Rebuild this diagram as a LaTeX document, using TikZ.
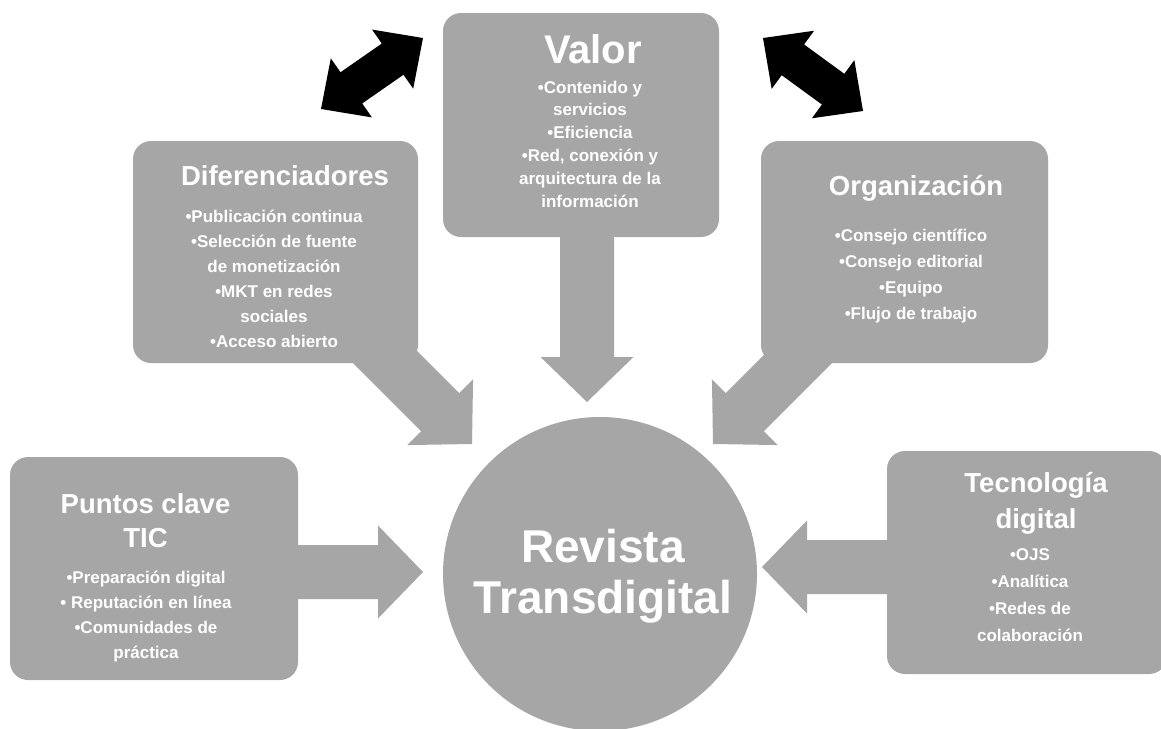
\documentclass[tikz,border=0pt]{standalone}
\usepackage{fontspec}
\setmainfont{Liberation Sans}
\usetikzlibrary{calc}
\definecolor{boxgray}{RGB}{166,166,166}
\newcommand{\blockarrow}[2]{%
  \coordinate (ba-c) at ($(#2)!45pt!(#1)$);
  \fill[boxgray] ($(#1)!27pt!90:(#2)$) -- ($(ba-c)!27pt!90:(#2)$) -- ($(ba-c)!46.5pt!90:(#2)$) -- (#2)
    -- ($(ba-c)!46.5pt!-90:(#2)$) -- ($(ba-c)!27pt!-90:(#2)$) -- ($(#1)!27pt!-90:(#2)$) -- cycle;}
\newcommand{\dblarrow}[2]{%
  \coordinate (da-a) at ($(#1)!37pt!(#2)$);
  \coordinate (da-b) at ($(#2)!37pt!(#1)$);
  \fill[black] (#1) -- ($(da-a)!36pt!90:(#2)$) -- ($(da-a)!19pt!90:(#2)$) -- ($(da-b)!19pt!-90:(#1)$)
    -- ($(da-b)!36pt!-90:(#1)$) -- (#2) -- ($(da-b)!36pt!90:(#1)$) -- ($(da-b)!19pt!90:(#1)$)
    -- ($(da-a)!19pt!-90:(#2)$) -- ($(da-a)!36pt!-90:(#2)$) -- cycle;}
\tikzset{
  box/.style={fill=boxgray, rounded corners=18pt, inner sep=0pt, draw=none},
  ttl/.style={text=white, font=\fontsize{27.5}{34}\selectfont\bfseries, align=center, anchor=base, inner sep=0pt},
  itm/.style={text=white, font=\fontsize{17}{25}\selectfont\bfseries, align=center, anchor=base, inner sep=0pt},
}
\begin{document}
\begin{tikzpicture}[x=1pt,y=-1pt]
\useasboundingbox (0,0) rectangle (1161,728);
\clip (0,0) rectangle (1161,728);
% arrow end points
\coordinate (sV) at (587,200);  \coordinate (tV) at (587,402);
\coordinate (sD) at (322,294);  \coordinate (tD) at (472,444);
\coordinate (sO) at (863,294);  \coordinate (tO) at (713,444);
\coordinate (sP) at (250,572);  \coordinate (tP) at (423,572);
\coordinate (sT) at (930,567);  \coordinate (tT) at (762,567);
\blockarrow{sV}{tV}
\blockarrow{sD}{tD}
\blockarrow{sO}{tO}
\blockarrow{sP}{tP}
\blockarrow{sT}{tT}
% boxes
\node[box, minimum width=276pt, minimum height=224pt] (val) at (581,125) {};
\node[box, minimum width=285pt, minimum height=222pt] (dif) at (275.5,252) {};
\node[box, minimum width=287pt, minimum height=222pt] (org) at (904.5,252) {};
\node[box, minimum width=288pt, minimum height=223pt] (pun) at (154,568.5) {};
\node[box, minimum width=280pt, minimum height=223pt] (tec) at (1027,562.5) {};
\node[circle, fill=boxgray, minimum size=314pt, inner sep=0pt] (rev) at (600,574) {};
% black double arrows
\coordinate (lA) at (321,109); \coordinate (lB) at (423,38);
\coordinate (rA) at (763,38);  \coordinate (rB) at (863,111);
\dblarrow{lA}{lB}
\dblarrow{rA}{rB}
% texts (anchor base = baseline of the last line)
\node[ttl, font=\fontsize{40}{48}\selectfont\bfseries] (valT) at (593,63) {Valor};
\node[itm, font=\fontsize{17}{22.8}\selectfont\bfseries] (valI) at (590,207) {•Contenido y\\servicios\\•Eficiencia\\•Red, conexión y\\arquitectura de la\\información};
\node[ttl] (difT) at (285,185) {Diferenciadores};
\node[itm] (difI) at (274,347) {•Publicación continua\\•Selección de fuente\\de monetización\\•MKT en redes\\sociales\\•Acceso abierto};
\node[ttl] (orgT) at (916,195) {Organización};
\node[itm, font=\fontsize{17}{25.7}\selectfont\bfseries] (orgI) at (911,319) {•Consejo científico\\•Consejo editorial\\•Equipo\\•Flujo de trabajo};
\node[ttl] (punT) at (145.5,547) {Puntos clave\\TIC};
\node[itm] (punI) at (146,658) {•Preparación digital\\• Reputación en línea\\•Comunidades de\\práctica};
\node[ttl, font=\fontsize{27.5}{36}\selectfont\bfseries] (tecT) at (1036,528) {Tecnología\\digital};
\node[itm, font=\fontsize{17}{27}\selectfont\bfseries] (tecI) at (1030,641) {•OJS\\•Analítica\\•Redes de\\colaboración};
\node[ttl, font=\fontsize{46}{51}\selectfont\bfseries] (revT) at (603,613) {Revista\\Transdigital};
\end{tikzpicture}
\end{document}
